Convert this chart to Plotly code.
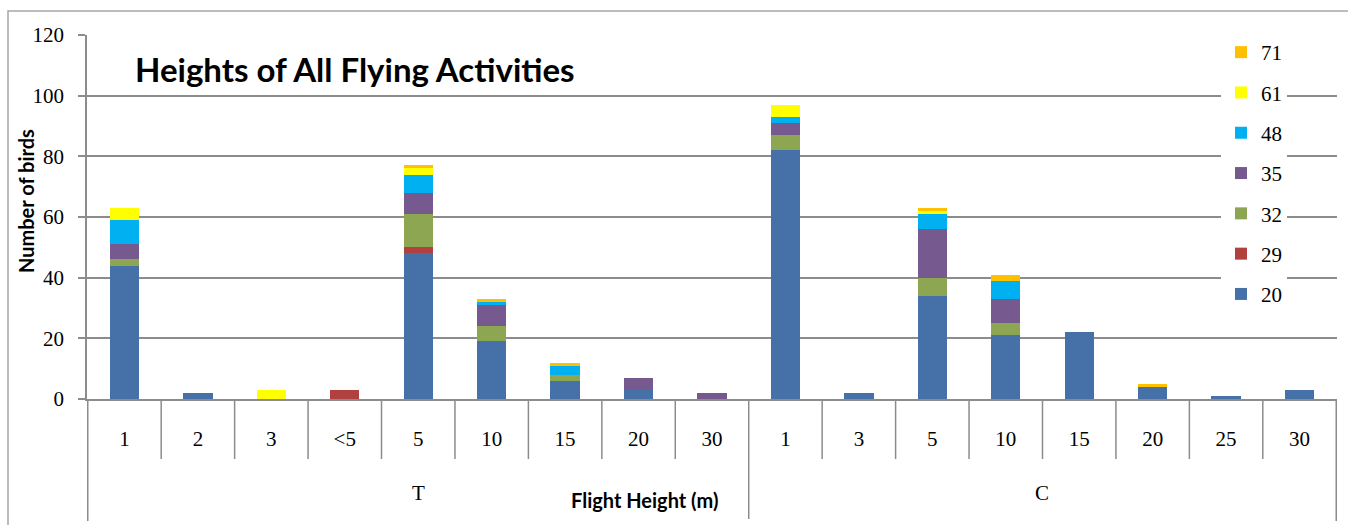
import plotly.graph_objects as go

# Category structure: two site groups with flight-height bins (m)
group_t = ["1", "2", "3", "<5", "5", "10", "15", "20", "30"]
group_c = ["1", "3", "5", "10", "15", "20", "25", "30"]
group_names = ["T", "C"]

# Bird counts per series (legend label), T bins then C bins
s20 = [44, 2, 0, 0, 48, 19, 6, 3, 0,   82, 2, 34, 21, 22, 4, 1, 3]
s29 = [0, 0, 0, 3, 2, 0, 0, 0, 0,      0, 0, 0, 0, 0, 0, 0, 0]
s32 = [2, 0, 0, 0, 11, 5, 2, 0, 0,     5, 0, 6, 4, 0, 0, 0, 0]
s35 = [5, 0, 0, 0, 7, 7, 0, 4, 2,      4, 0, 16, 8, 0, 0, 0, 0]
s48 = [8, 0, 0, 0, 6, 1, 3, 0, 0,      2, 0, 5, 6, 0, 0, 0, 0]
s61 = [4, 0, 3, 0, 2, 0, 0, 0, 0,      4, 0, 1, 0, 0, 0, 0, 0]
s71 = [0, 0, 0, 0, 1, 1, 1, 0, 0,      0, 0, 1, 2, 0, 1, 0, 0]

series_names = ["20", "29", "32", "35", "48", "61", "71"]
series_values = [s20, s29, s32, s35, s48, s61, s71]
series_colors = ["#4671A8", "#B0413E", "#8DA652", "#76598F", "#00B0F0", "#FFFF00", "#FFC000"]

tick_labels = group_t + group_c
keys = [f"T|{v}" for v in group_t] + [f"C|{v}" for v in group_c]
n_t, n_c = len(group_t), len(group_c)

GRID = "#8C8C8C"
SERIF = "Liberation Serif"
SANS = "Lato"

fig = go.Figure()
n_series = len(series_names)
for k, (name, vals, col) in enumerate(zip(series_names, series_values, series_colors)):
    fig.add_trace(go.Bar(
        x=keys, y=vals, name=name, marker=dict(color=col, line=dict(width=0)),
        legendgroup=name, legendrank=n_series - k,
    ))

# plot-area geometry in pixels, used to place the frame/labels in paper units
L, R, T, B = 87, 11, 35, 126
W, H = 1348, 525
pw, ph = W - L - R, H - T - B


def px_x(p):
    return (p - L) / pw


def px_y(p):
    return (H - B - p) / ph


shapes = []
# boundaries between category cells, drawn down through the label rows
for i in range(1, n_t + n_c):
    deep = (i == n_t)
    shapes.append(dict(type="line", xref="x", yref="paper",
                       x0=i - 0.5, x1=i - 0.5, y0=0,
                       y1=px_y(519 if deep else 459),
                       line=dict(color=GRID, width=1.5)))
# outer edges of the category table
for xe in (-0.5, n_t + n_c - 0.5):
    shapes.append(dict(type="line", xref="x", yref="paper",
                       x0=xe, x1=xe, y0=0, y1=px_y(521),
                       line=dict(color=GRID, width=1.5)))
# chart frame
shapes.append(dict(type="rect", xref="paper", yref="paper",
                   x0=px_x(8), x1=px_x(1360), y0=px_y(540), y1=px_y(11),
                   line=dict(color="#A6A6A6", width=1.5), fillcolor="rgba(0,0,0,0)"))

annotations = [
    dict(text="Heights of All Flying Activities", xref="paper", yref="paper",
         x=px_x(133), y=px_y(69), xanchor="left", yanchor="middle", showarrow=False,
         font=dict(family=SANS, size=33, color="#000000", weight="bold")),
    dict(text="Number of birds", xref="paper", yref="paper", textangle=-90,
         x=px_x(26), y=px_y(201), xanchor="center", yanchor="middle", showarrow=False,
         font=dict(family=SANS, size=20, color="#000000", weight="bold")),
    dict(text="Flight Height (m)", xref="paper", yref="paper",
         x=px_x(644), y=px_y(500), xanchor="center", yanchor="middle", showarrow=False,
         font=dict(family=SANS, size=20, color="#000000", weight="bold")),
    dict(text=group_names[0], xref="x", yref="paper",
         x=(n_t - 1) / 2, y=px_y(493), xanchor="center", yanchor="middle", showarrow=False,
         font=dict(family=SERIF, size=21, color="#000000")),
    dict(text=group_names[1], xref="x", yref="paper",
         x=n_t + (n_c - 1) / 2, y=px_y(493), xanchor="center", yanchor="middle", showarrow=False,
         font=dict(family=SERIF, size=21, color="#000000")),
]

fig.update_layout(
    width=W, height=H,
    margin=dict(l=L, r=R, t=T, b=B, autoexpand=False),
    barmode="stack", bargap=0.6,
    paper_bgcolor="white", plot_bgcolor="white",
    font=dict(family=SERIF, size=21, color="#000000"),
    showlegend=True,
    legend=dict(x=px_x(1221), y=px_y(32), xanchor="left", yanchor="top",
                traceorder="grouped", tracegroupgap=10, maxheight=480,
                bgcolor="white", borderwidth=0,
                font=dict(family=SERIF, size=21, color="#000000")),
    xaxis=dict(type="category", tickvals=keys, ticktext=tick_labels,
               showgrid=False, ticks="", showline=True, linecolor=GRID, linewidth=1.5,
               ticklabelstandoff=20, fixedrange=True),
    yaxis=dict(range=[0, 120], dtick=20, tick0=0, showgrid=True, gridcolor=GRID, gridwidth=1.5,
               ticks="outside", ticklen=7, tickcolor=GRID, tickwidth=1.5,
               showline=True, linecolor=GRID, linewidth=1.5, zeroline=False,
               ticklabelstandoff=10),
    shapes=shapes,
    annotations=annotations,
)

fig.write_html("out.html")
